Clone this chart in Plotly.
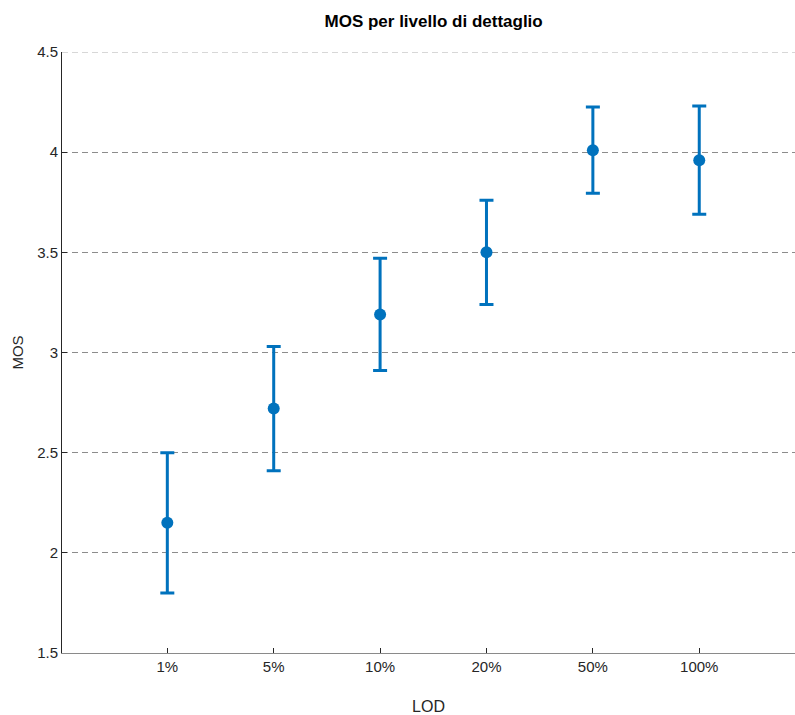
import plotly.graph_objects as go

# Mean opinion score per level of detail, with symmetric error bars
lod_labels = ["1%", "5%", "10%", "20%", "50%", "100%"]
mos_mean = [2.15, 2.72, 3.19, 3.50, 4.01, 3.96]
mos_err = [0.35, 0.31, 0.28, 0.26, 0.215, 0.27]
y_ticks = [1.5, 2, 2.5, 3, 3.5, 4, 4.5]

blue = "#0072BD"
ink = "#262626"
font_family = "Liberation Sans, Arial, Helvetica, sans-serif"

fig = go.Figure(
    go.Scatter(
        x=lod_labels,
        y=mos_mean,
        mode="markers",
        marker=dict(color=blue, size=12),
        error_y=dict(type="data", array=mos_err, visible=True,
                     color=blue, thickness=3, width=7),
        showlegend=False,
    )
)

fig.update_layout(
    width=795,
    height=715,
    margin=dict(l=62, r=0, t=52, b=62),
    paper_bgcolor="white",
    plot_bgcolor="white",
    font=dict(family=font_family, size=14, color=ink),
    title=dict(
        text="<b>MOS per livello di dettaglio</b>",
        xref="paper", x=0.507, xanchor="center",
        yref="container", y=0.9706, yanchor="middle",
        font=dict(size=17, color="black"),
    ),
)

fig.update_xaxes(
    type="category",
    categoryorder="array",
    categoryarray=lod_labels,
    range=[-0.99, 5.9],
    showgrid=False,
    zeroline=False,
    showline=True,
    linecolor="#8a8a8a",
    linewidth=1,
    ticks="inside",
    ticklen=5,
    tickcolor=ink,
    tickfont=dict(size=15, color=ink),
    title=dict(text="LOD", font=dict(size=16, color=ink), standoff=28),
)

fig.update_yaxes(
    range=[1.5, 4.5],
    tickvals=y_ticks,
    showgrid=True,
    gridcolor="#8c8c8c",
    griddash="6px,4px",
    gridwidth=1,
    zeroline=False,
    showline=True,
    linecolor=ink,
    linewidth=1,
    ticks="inside",
    ticklen=5,
    tickcolor=ink,
    tickfont=dict(size=15, color=ink),
    title=dict(text="MOS", font=dict(size=15, color=ink), standoff=9),
)

# Top grid line at the upper end of the y range (the axis edge)
fig.add_shape(
    type="line", xref="paper", yref="y",
    x0=0, x1=1, y0=y_ticks[-1], y1=y_ticks[-1],
    line=dict(color="#b0b0b0", width=1, dash="6px,4px"),
)

fig.write_html("out.html")
